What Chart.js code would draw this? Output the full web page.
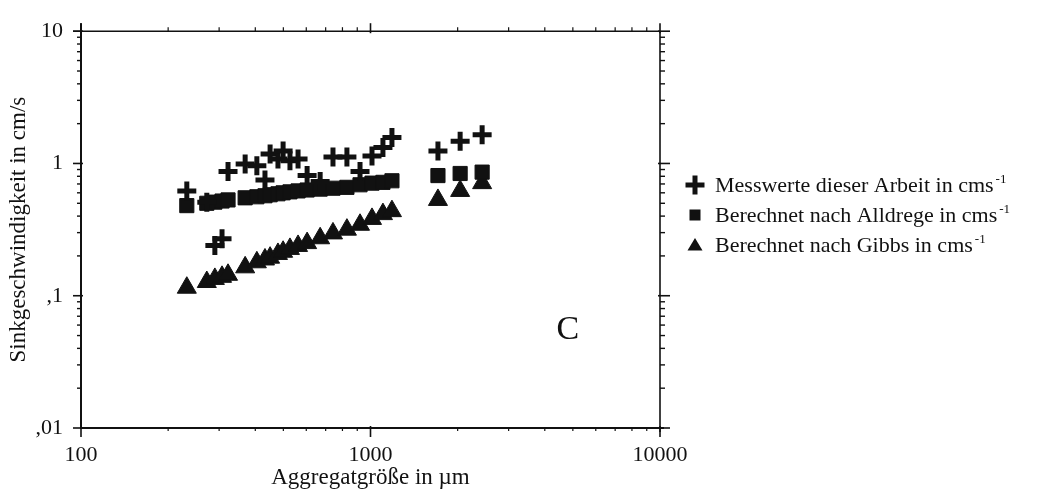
<!DOCTYPE html>
<html>
<head>
<meta charset="utf-8">
<script src="https://cdn.jsdelivr.net/npm/chart.js@4.4.1/dist/chart.umd.min.js"></script>
<style>
  html, body { margin: 0; padding: 0; background: #fff; }
  #wrap { width: 1043px; height: 495px; }
</style>
</head>
<body>
<div id="wrap"><canvas id="sinkChart" width="1043" height="495"></canvas></div>
<script>
(function () {
    'use strict';

    // ── DATA ───────────────────────────────────────────────────────────────
    // aggregate size in µm
    const sizes = [232, 272, 290, 307, 322, 369, 405, 432, 450, 479, 499, 527,
                   562, 604, 670, 742, 829, 920, 1012, 1104, 1186, 1710, 2040, 2430];
    // sinking velocity in cm/s
    const measured = [0.62, 0.51, 0.24, 0.27, 0.87, 0.99, 0.96, 0.75, 1.18, 1.08, 1.24, 1.05,
                      1.08, 0.81, 0.73, 1.12, 1.12, 0.87, 1.14, 1.32, 1.57, 1.24, 1.47, 1.65];
    const alldrege = [0.48, 0.50, 0.51, 0.52, 0.53, 0.55, 0.56, 0.57, 0.58, 0.59, 0.60, 0.61,
                      0.62, 0.63, 0.64, 0.65, 0.66, 0.69, 0.71, 0.72, 0.74, 0.81, 0.84, 0.86];
    const gibbs    = [0.115, 0.127, 0.134, 0.139, 0.144, 0.164, 0.179, 0.188, 0.194, 0.207, 0.215, 0.226,
                      0.238, 0.250, 0.272, 0.296, 0.316, 0.344, 0.381, 0.414, 0.436, 0.53, 0.62, 0.71];

    const seriesNames = [
        'Messwerte dieser Arbeit in cms',
        'Berechnet nach Alldrege in cms',
        'Berechnet nach Gibbs in cms'
    ];

    const xDecades    = [100, 1000, 10000];
    const xTickLabels = ['100', '1000', '10000'];
    const yDecades    = [0.01, 0.1, 1, 10];
    const yTickLabels = [',01', ',1', '1', '10'];

    const xTitle = 'Aggregatgröße in µm';
    const yTitle = 'Sinkgeschwindigkeit in cm/s';
    const panelLetter = 'C';

    // ── STYLE ──────────────────────────────────────────────────────────────
    const INK   = '#111';
    const SERIF = '"Liberation Serif", "Times New Roman", serif';

    const toPoints = vals => sizes.map((s, i) => ({ x: s, y: vals[i] }));

    function decadeLabel(v, decades, labels) {
        const i = decades.findIndex(d => Math.abs(Math.log10(v) - Math.log10(d)) < 1e-6);
        return i >= 0 ? labels[i] : '';
    }

    // ── AXIS FRAME, TICKS, LETTER, LEGEND ──────────────────────────────────
    const framePlugin = {
        id: 'frame',
        afterDraw(chart) {
            const { ctx, chartArea: a, scales: { x, y } } = chart;
            ctx.save();
            ctx.strokeStyle = INK;
            ctx.fillStyle = INK;

            const line = (x1, y1, x2, y2, w) => {
                ctx.lineWidth = w;
                ctx.beginPath();
                ctx.moveTo(x1, y1);
                ctx.lineTo(x2, y2);
                ctx.stroke();
            };

            // box
            line(a.left, a.top - 8, a.left, a.bottom + 1, 2);
            line(a.left - 1, a.bottom, a.right + 4, a.bottom, 2);
            line(a.left - 8, a.top, a.right, a.top, 1.6);
            line(a.right, a.top, a.right, a.bottom + 4, 1.6);

            // y ticks, both sides pointing out
            for (let e = -2; e <= 1; e++) {
                const base = Math.pow(10, e);
                const py = y.getPixelForValue(base);
                line(a.left - 8, py, a.left + 2, py, 1.6);
                line(a.right - 2, py, a.right + 10, py, 1.6);
                if (e === 1) continue;
                for (let m = 2; m <= 9; m++) {
                    const q = y.getPixelForValue(m * base);
                    line(a.left - 4, q, a.left, q, 1.4);
                    line(a.right, q, a.right + 5, q, 1.4);
                }
            }

            // x ticks, top and bottom
            for (let e = 2; e <= 4; e++) {
                const base = Math.pow(10, e);
                const px = x.getPixelForValue(base);
                line(px, a.bottom - 2, px, a.bottom + 9, 1.6);
                line(px, a.top + 2, px, a.top - 8, 1.6);
                if (e === 4) continue;
                for (let m = 2; m <= 9; m++) {
                    const q = x.getPixelForValue(m * base);
                    line(q, a.bottom, q, a.bottom + 3, 1.2);
                    line(q, a.top, q, a.top - 4, 1.2);
                }
            }

            // panel letter
            ctx.font = '34px ' + SERIF;
            ctx.textAlign = 'center';
            ctx.textBaseline = 'middle';
            ctx.fillText(panelLetter, x.getPixelForValue(4800), y.getPixelForValue(0.055));

            // legend
            const lx = 695, tx = 715, rows = [185, 215, 245];
            chart.data.datasets.forEach((ds, i) => {
                const cy = rows[i];
                if (ds.pointStyle === 'cross') {
                    line(lx - 9.5, cy, lx + 9.5, cy, 5);
                    line(lx, cy - 9.5, lx, cy + 9.5, 5);
                } else if (ds.pointStyle === 'rect') {
                    ctx.fillRect(lx - 5.5, cy - 5.5, 11, 11);
                } else {
                    ctx.beginPath();
                    ctx.moveTo(lx, cy - 7);
                    ctx.lineTo(lx + 7.5, cy + 5.5);
                    ctx.lineTo(lx - 7.5, cy + 5.5);
                    ctx.closePath();
                    ctx.fill();
                }
                ctx.textAlign = 'left';
                ctx.textBaseline = 'middle';
                ctx.font = '22px ' + SERIF;
                ctx.fillText(ds.label, tx, cy + 1);
                const w = ctx.measureText(ds.label).width;
                ctx.font = '13px ' + SERIF;
                ctx.fillText('-1', tx + w + 2, cy - 5);
            });

            ctx.restore();
        }
    };

    // ── CHART ──────────────────────────────────────────────────────────────
    const tickFont = { family: SERIF, size: 22 };

    new Chart(document.getElementById('sinkChart'), {
        type: 'scatter',
        data: {
            datasets: [
                {
                    label: seriesNames[0],
                    data: toPoints(measured),
                    pointStyle: 'cross',
                    pointRadius: 9.5,
                    pointBorderWidth: 5,
                    borderColor: INK,
                    backgroundColor: INK
                },
                {
                    label: seriesNames[1],
                    data: toPoints(alldrege),
                    pointStyle: 'rect',
                    pointRadius: 10,
                    pointBorderWidth: 1,
                    borderColor: INK,
                    backgroundColor: INK
                },
                {
                    label: seriesNames[2],
                    data: toPoints(gibbs),
                    pointStyle: 'triangle',
                    pointRadius: 11,
                    pointBorderWidth: 1,
                    borderColor: INK,
                    backgroundColor: INK
                }
            ]
        },
        options: {
            responsive: false,
            animation: false,
            layout: { padding: { top: 18, right: 383, bottom: 0, left: 0 } },
            plugins: {
                legend: { display: false },
                tooltip: { enabled: false }
            },
            scales: {
                x: {
                    type: 'logarithmic',
                    position: 'bottom',
                    min: 100,
                    max: 10000,
                    grid: { display: false, drawTicks: false },
                    border: { display: false },
                    ticks: {
                        autoSkip: false,
                        maxRotation: 0,
                        padding: 14,
                        color: INK,
                        font: tickFont,
                        callback: v => decadeLabel(v, xDecades, xTickLabels)
                    },
                    title: {
                        display: true,
                        text: xTitle,
                        color: INK,
                        font: { family: SERIF, size: 23 },
                        padding: { top: 0, bottom: 3 }
                    },
                    afterFit: s => { s.height = 67; }
                },
                y: {
                    type: 'logarithmic',
                    position: 'left',
                    min: 0.01,
                    max: 10,
                    grid: { display: false, drawTicks: false },
                    border: { display: false },
                    ticks: {
                        autoSkip: false,
                        padding: 18,
                        color: INK,
                        font: tickFont,
                        callback: v => decadeLabel(v, yDecades, yTickLabels)
                    },
                    title: {
                        display: true,
                        text: yTitle,
                        color: INK,
                        font: { family: SERIF, size: 23 },
                        padding: { top: 5, bottom: 0 }
                    },
                    afterFit: s => { s.width = 81; }
                }
            }
        },
        plugins: [framePlugin]
    });
})();
</script>
</body>
</html>
